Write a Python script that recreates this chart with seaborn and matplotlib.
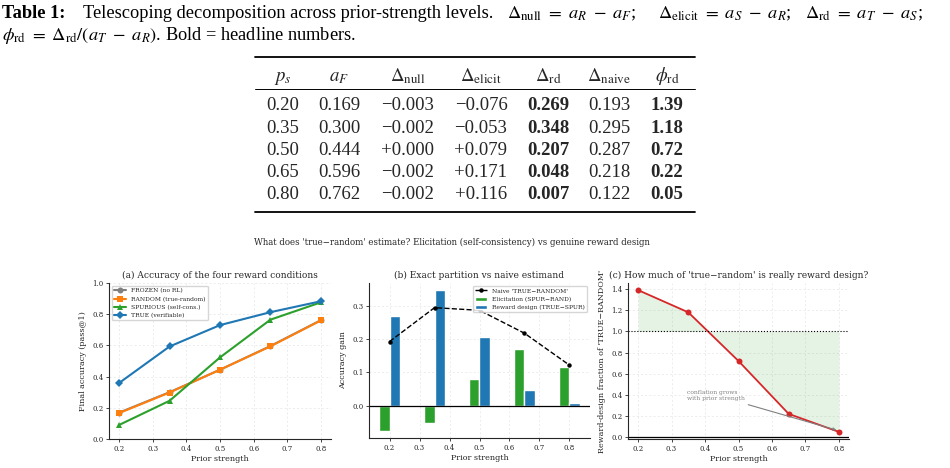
#!/usr/bin/env python3
"""Telescoping decomposition table + three-panel figure (prior strength sweep)."""
import numpy as np
import matplotlib
matplotlib.use("Agg")
import matplotlib.pyplot as plt
from matplotlib.lines import Line2D
import seaborn as sns

# ---- data -------------------------------------------------------------
prior = [0.20, 0.35, 0.50, 0.65, 0.80]

frozen_acc = [0.169, 0.300, 0.444, 0.596, 0.762]
random_acc = [0.166, 0.298, 0.444, 0.594, 0.760]
spurious_acc = [0.090, 0.245, 0.523, 0.765, 0.876]
true_acc = [0.359, 0.593, 0.730, 0.813, 0.883]

null_gain = [-0.003, -0.002, 0.000, -0.002, -0.002]
elicit_gain = [-0.076, -0.053, 0.079, 0.171, 0.116]
rd_gain = [0.269, 0.348, 0.207, 0.048, 0.007]
naive_gain = [0.193, 0.295, 0.287, 0.218, 0.122]
rd_fraction = [1.39, 1.18, 0.72, 0.22, 0.05]

table_header = [r"$p_s$", r"$a_F$", r"$\Delta_{\mathrm{null}}$", r"$\Delta_{\mathrm{elicit}}$",
                r"$\Delta_{\mathrm{rd}}$", r"$\Delta_{\mathrm{naive}}$", r"$\phi_{\mathrm{rd}}$"]

MINUS = "\u2212"


def signed(v):
    return f"{v:+.3f}".replace("-", MINUS)


sns.set_theme(style="ticks")
plt.rcParams["font.family"] = ["DejaVu Serif"]
plt.rcParams["mathtext.fontset"] = "stix"

W, H = 950, 468
fig = plt.figure(figsize=(9.5, 4.68), dpi=100)


def fx(px):
    return px / W


def fy(py):
    return 1 - py / H


# ---- caption ----------------------------------------------------------
cap = dict(family="Liberation Serif", fontsize=13.2, va="baseline", color="black")
fig.text(fx(2), fy(18), "Table 1:", fontweight="bold", **cap)
fig.text(fx(83), fy(18), "Telescoping decomposition across prior-strength levels.", **cap)
fig.text(fx(507), fy(18), r"$\Delta_{\mathrm{null}}\ =\ a_R\ -\ a_F$;", **cap)
fig.text(fx(658), fy(18), r"$\Delta_{\mathrm{elicit}}\ =\ a_S\ -\ a_R$;", **cap)
fig.text(fx(805), fy(18), r"$\Delta_{\mathrm{rd}}\ =\ a_T\ -\ a_S$;", **cap)
fig.text(fx(2), fy(40), r"$\phi_{\mathrm{rd}}\ =\ \Delta_{\mathrm{rd}}/(a_T\ -\ a_R)$. Bold = headline numbers.", **cap)

# ---- table ------------------------------------------------------------
col_x = [283, 339, 408, 481, 548, 609, 667]
row_y = [110, 133, 155, 177, 199]
tab = dict(family="Liberation Serif", fontsize=13.5, ha="center", va="baseline")
for cx, h in zip(col_x, table_header):
    fig.text(fx(cx), fy(81), h, **tab)
for i, ry in enumerate(row_y):
    cells = [f"{prior[i]:.2f}", f"{frozen_acc[i]:.3f}", signed(null_gain[i]), signed(elicit_gain[i]),
             f"{rd_gain[i]:.3f}", f"{naive_gain[i]:.3f}", f"{rd_fraction[i]:.2f}"]
    for j, (cx, c) in enumerate(zip(col_x, cells)):
        fig.text(fx(cx), fy(ry), c, fontweight="bold" if j in (4, 6) else "normal", **tab)
for ry, lw in [(57, 1.3), (89, 0.7), (212, 1.3)]:
    fig.add_artist(Line2D([fx(255), fx(695)], [fy(ry), fy(ry)], color="black", lw=lw))

# ---- figure panels ----------------------------------------------------
fig.text(fx(452), fy(242), "What does 'true\u2212random' estimate? Elicitation (self-consistency) vs genuine reward design",
         ha="center", va="center", fontsize=6.2)

ax_a = fig.add_axes([fx(109), fy(439), fx(222), 156 / H])
ax_b = fig.add_axes([fx(369), fy(438), fx(221), 155 / H])
ax_c = fig.add_axes([fx(628), fy(439), fx(221), 156 / H])

TITLE, LABEL, TICK, LEG = 6.5, 5.8, 5.0, 4.3

# (a) accuracy of the four conditions
series = [("FROZEN (no RL)", frozen_acc, "#7f7f7f", "o"),
          ("RANDOM (true-random)", random_acc, "#ff7f0e", "s"),
          ("SPURIOUS (self-cons.)", spurious_acc, "#2ca02c", "^"),
          ("TRUE (verifiable)", true_acc, "#1f77b4", "D")]
for name, vals, col, mk in series:
    sns.lineplot(x=prior, y=vals, ax=ax_a, color=col, marker=mk, markersize=4.3,
                 markeredgewidth=0, lw=1.5, label=name)
ax_a.set_ylim(0, 1.0)
ax_a.set_title("(a) Accuracy of the four reward conditions", fontsize=TITLE, pad=3.5)
ax_a.set_ylabel("Final accuracy (pass@1)", fontsize=LABEL)
ax_a.legend(loc="upper left", fontsize=LEG, frameon=True, edgecolor="#cccccc", fancybox=True)

# (b) exact partition vs naive estimand
w = 0.035
xb = np.array(prior)
ax_b.bar(xb - w / 2, elicit_gain, width=w, color="#2ca02c", label="Elicitation (SPUR\u2212RAND)")
ax_b.bar(xb + w / 2, rd_gain, width=w, color="#1f77b4", label="Reward design (TRUE\u2212SPUR)")
sns.lineplot(x=prior, y=naive_gain, ax=ax_b, color="black", ls="--", lw=1.0, marker="o",
             markersize=3.2, markeredgewidth=0, label="Naive 'TRUE\u2212RANDOM'")
ax_b.axhline(0, color="black", lw=0.9)
ax_b.set_title("(b) Exact partition vs naive estimand", fontsize=TITLE, pad=3.5)
ax_b.set_ylabel("Accuracy gain", fontsize=LABEL)
h, l = ax_b.get_legend_handles_labels()
order = [l.index("Naive 'TRUE\u2212RANDOM'"), l.index("Elicitation (SPUR\u2212RAND)"),
         l.index("Reward design (TRUE\u2212SPUR)")]
ax_b.legend([h[k] for k in order], [l[k] for k in order], loc="upper right", fontsize=LEG,
            frameon=True, edgecolor="#cccccc")

# (c) fraction of naive estimand that is reward design
ax_c.fill_between(prior, rd_fraction, 1.0, color="#2ca02c", alpha=0.12, lw=0)
sns.lineplot(x=prior, y=rd_fraction, ax=ax_c, color="#d62728", lw=1.3, marker="o",
             markersize=4.3, markeredgewidth=0)
ax_c.axhline(1.0, color="black", ls=":", lw=0.8)
ax_c.axhline(0, color="black", lw=0.9)
ax_c.annotate("conflation grows\nwith prior strength", xy=(0.8, 0.06), xytext=(0.345, 0.355),
              fontsize=LEG, color="gray",
              arrowprops=dict(arrowstyle="->", color="gray", lw=0.8))
ax_c.set_title("(c) How much of 'true\u2212random' is really reward design?", fontsize=TITLE, pad=3.5)
ax_c.set_ylabel("Reward-design fraction of 'TRUE\u2212RANDOM'", fontsize=LABEL)

for ax in (ax_a, ax_b, ax_c):
    ax.set_xlabel("Prior strength", fontsize=LABEL, labelpad=1.5)
    ax.grid(True, ls=(0, (3, 3)), lw=0.5, alpha=0.5)
    ax.tick_params(labelsize=TICK, length=2.5, width=0.6, pad=1.5)
    for s in ("left", "bottom"):
        ax.spines[s].set_linewidth(0.8)
    sns.despine(ax=ax)

fig.savefig("out.png", dpi=100)
